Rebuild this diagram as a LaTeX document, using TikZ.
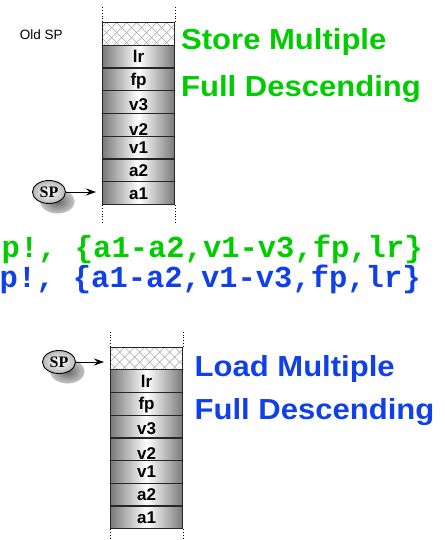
\documentclass[tikz,border=0pt]{standalone}
\usepackage{fontspec}
\setmainfont{Liberation Sans}
\newfontfamily\spserif{Liberation Serif}
\newfontfamily\codemono{Liberation Mono}
\usetikzlibrary{shapes.geometric,arrows.meta,shadows}
\definecolor{titlegreen}{RGB}{0,204,0}
\definecolor{titleblue}{RGB}{16,64,232}
\begin{document}
\begin{tikzpicture}[x=1pt,y=-1pt,
  cell/.style={draw=black!85, line width=1.2pt, minimum width=72pt, minimum height=22.75pt,
    inner sep=0pt, left color=black!52, right color=black!52, middle color=white,
    font=\bfseries\fontsize{17}{17}\selectfont, text depth=0pt, anchor=north west},
  oldcell/.style={draw=black!85, line width=1.2pt, minimum width=72pt, minimum height=22.75pt,
    inner sep=0pt, fill=white, anchor=north west,
    path picture={\foreach \k in {-36,-26,...,84}{
      \draw[black!35, line width=0.6pt] ([xshift=\k pt]path picture bounding box.north west) -- ++(24,24);
      \draw[black!35, line width=0.6pt] ([xshift=\k pt]path picture bounding box.north west) -- ++(-24,24);}}},
  spball/.style={ellipse, draw=black, line width=0.9pt, inner color=white, outer color=black!28,
    minimum width=33pt, minimum height=23pt, inner sep=0pt,
    font=\spserif\bfseries\fontsize{16}{16}\selectfont,
    drop shadow={shadow xshift=8pt, shadow yshift=-9pt, shadow scale=1.05, opacity=1,
      fill=none, inner color=black!60, outer color=black!22}},
  sparrow/.style={-{Stealth[length=10pt,width=7pt]}, line width=0.9pt},
  guide/.style={dotted, line width=0.8pt},
  title/.style={anchor=base west, inner sep=0pt, font=\bfseries\fontsize{29}{29}\selectfont},
  code/.style={anchor=base west, inner sep=0pt, font=\codemono\bfseries\fontsize{30.5}{30.5}\selectfont}
]
\useasboundingbox (0,0) rectangle (444,540);

% ---------- top stack (store) ----------
\node[oldcell] (t0) at (102,22) {};
\foreach \lab/\th [count=\i] in {lr/12,fp/12,v3/16,v2/21,v1/11,a2/12,a1/12}
  \node[cell, text height=\th pt] (t\i) at (102,22+\i*22.75) {\lab};
\draw[guide] (t0.north west) -- ++(0,-16);
\draw[guide] (t0.north east) -- ++(0,-16);
\draw[guide] (t7.south west) -- ++(0,18);
\draw[guide] (t7.south east) -- ++(0,18);

\node[anchor=base west, inner sep=0pt, font=\fontsize{13.5}{13.5}\selectfont] (oldsp) at (19.7,40) {Old SP};

\node[spball] (sp1) at (49,192) {SP};
\coordinate (tip1) at (96,192);
\draw[sparrow] (sp1) -- (tip1);

\node[title, text=titlegreen] (st1) at (181,50) {\scalebox{1.07}[1]{Store Multiple}};
\node[title, text=titlegreen] (st2) at (181,97) {\scalebox{1.07}[1]{Full Descending}};

% ---------- code lines ----------
\node[code, text=titlegreen] (c1) at (1.5,257) {p!, \{a1-a2,v1-v3,fp,lr\}};
\node[code, text=titleblue] (c2) at (-0.5,287) {p!, \{a1-a2,v1-v3,fp,lr\}};

% ---------- bottom stack (load) ----------
\node[oldcell] (b0) at (110,346.5) {};
\foreach \lab/\th [count=\i] in {lr/12,fp/12,v3/16,v2/21,v1/11,a2/12,a1/12}
  \node[cell, text height=\th pt] (b\i) at (110,346.5+\i*22.7) {\lab};
\draw[guide] (b0.north west) -- ++(0,-15);
\draw[guide] (b0.north east) -- ++(0,-15);
\draw[guide] (b7.south west) -- ++(0,14);
\draw[guide] (b7.south east) -- ++(0,14);

\node[spball] (sp2) at (59,362) {SP};
\coordinate (tip2) at (104,362);
\draw[sparrow] (sp2) -- (tip2);

\node[title, text=titleblue] (ld1) at (194.5,376) {\scalebox{1.07}[1]{Load Multiple}};
\node[title, text=titleblue] (ld2) at (194.5,419) {\scalebox{1.07}[1]{Full Descending}};
\end{tikzpicture}
\end{document}
